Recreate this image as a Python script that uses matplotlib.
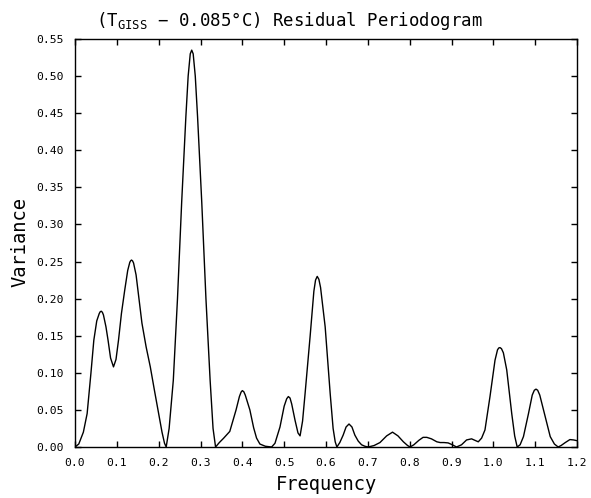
import matplotlib
matplotlib.use("Agg")
import matplotlib.pyplot as plt

freq = [0.000, 0.009, 0.020, 0.029, 0.038, 0.045, 0.052, 0.058, 0.0605, 0.063,
        0.0655, 0.068, 0.074, 0.079, 0.085, 0.092, 0.098, 0.104, 0.111, 0.119,
        0.126, 0.131, 0.133, 0.135, 0.1375, 0.140, 0.146, 0.153, 0.160, 0.170,
        0.180, 0.190, 0.200, 0.208, 0.214, 0.218, 0.225, 0.235, 0.245, 0.255,
        0.265, 0.2705, 0.2755, 0.279, 0.2825, 0.2875, 0.293, 0.303, 0.313, 0.323,
        0.330, 0.336, 0.345, 0.355, 0.370, 0.385, 0.393, 0.397, 0.400, 0.4035,
        0.407, 0.418, 0.427, 0.434, 0.442, 0.455, 0.470, 0.478, 0.490, 0.500,
        0.506, 0.510, 0.514, 0.518, 0.526, 0.533, 0.538, 0.544, 0.550, 0.562,
        0.571, 0.575, 0.579, 0.583, 0.587, 0.598, 0.610, 0.617, 0.622, 0.626,
        0.633, 0.641, 0.648, 0.655, 0.662, 0.669, 0.677, 0.685, 0.693, 0.701,
        0.715, 0.729, 0.745, 0.759, 0.772, 0.785, 0.795, 0.801, 0.810, 0.822,
        0.832, 0.841, 0.852, 0.865, 0.873, 0.882, 0.892, 0.902, 0.912, 0.924,
        0.936, 0.948, 0.956, 0.964, 0.972, 0.980, 0.992, 1.004, 1.010, 1.013,
        1.016, 1.0195, 1.024, 1.032, 1.044, 1.051, 1.057, 1.064, 1.072, 1.084,
        1.093, 1.098, 1.102, 1.106, 1.111, 1.120, 1.136, 1.146, 1.155, 1.162,
        1.172, 1.183, 1.192, 1.200]

variance = [0.000, 0.004, 0.020, 0.045, 0.099, 0.144, 0.170, 0.180, 0.1825, 0.183,
            0.1815, 0.178, 0.162, 0.144, 0.120, 0.108, 0.118, 0.144, 0.180, 0.212,
            0.238, 0.249, 0.251, 0.252, 0.251, 0.248, 0.232, 0.200, 0.167, 0.135,
            0.108, 0.076, 0.045, 0.020, 0.005, 0.000, 0.025, 0.090, 0.200, 0.330,
            0.445, 0.500, 0.530, 0.535, 0.530, 0.500, 0.445, 0.330, 0.200, 0.090,
            0.025, 0.000, 0.006, 0.0117, 0.021, 0.050, 0.068, 0.074, 0.076, 0.0745,
            0.070, 0.050, 0.026, 0.012, 0.004, 0.001, 0.000, 0.005, 0.027, 0.055,
            0.065, 0.068, 0.066, 0.058, 0.036, 0.019, 0.015, 0.035, 0.072, 0.149,
            0.210, 0.225, 0.230, 0.226, 0.215, 0.162, 0.072, 0.025, 0.007, 0.000,
            0.006, 0.016, 0.027, 0.031, 0.027, 0.016, 0.008, 0.003, 0.001, 0.000,
            0.002, 0.006, 0.015, 0.020, 0.015, 0.007, 0.002, 0.000, 0.003, 0.009,
            0.013, 0.013, 0.011, 0.007, 0.006, 0.006, 0.0055, 0.003, 0.000, 0.003,
            0.0095, 0.011, 0.009, 0.007, 0.012, 0.023, 0.068, 0.117, 0.131, 0.1335,
            0.134, 0.1325, 0.127, 0.104, 0.045, 0.015, 0.000, 0.003, 0.014, 0.045,
            0.070, 0.0765, 0.078, 0.0765, 0.070, 0.050, 0.014, 0.004, 0.000, 0.002,
            0.006, 0.010, 0.0095, 0.0085]

xticks = [0.0, 0.1, 0.2, 0.3, 0.4, 0.5, 0.6, 0.7, 0.8, 0.9, 1.0, 1.1, 1.2]
yticks = [0.00, 0.05, 0.10, 0.15, 0.20, 0.25, 0.30, 0.35, 0.40, 0.45, 0.50, 0.55]

plt.rcParams['font.family'] = ['DejaVu Sans Mono', 'DejaVu Sans']
plt.rcParams['mathtext.fontset'] = 'custom'
plt.rcParams['mathtext.rm'] = 'DejaVu Sans Mono'

W, H = 591, 498
fig = plt.figure(figsize=(W/100, H/100), dpi=100)
ax = fig.add_axes([75/W, 1-447/H, (577-75)/W, (447-39)/H])
ax.plot(freq, variance, color="black", lw=1.0)
ax.set_xlim(0, 1.2)
ax.set_ylim(0, 0.55)
ax.set_xticks(xticks)
ax.set_xticklabels([f"{t:.1f}" for t in xticks])
ax.set_yticks(yticks)
ax.set_yticklabels([f"{t:.2f}" for t in yticks])
ax.tick_params(direction="in", length=4, width=1, top=True, right=True,
               labelsize=8.2, pad=8)
for s in ax.spines.values():
    s.set_linewidth(1.0)

fig.text(326/W, 1-484/H, "Frequency", fontsize=13.5, ha="center", va="center")
fig.text(20/W, 1-242/H, "Variance", fontsize=13.5, ha="center", va="center",
         rotation=90)
fig.text(289/W, 1-21/H, r"(T$_\mathregular{GISS}$ − 0.085°C) Residual Periodogram",
         fontsize=12.5, ha="center", va="center")
fig.savefig("out.png", dpi=100)
